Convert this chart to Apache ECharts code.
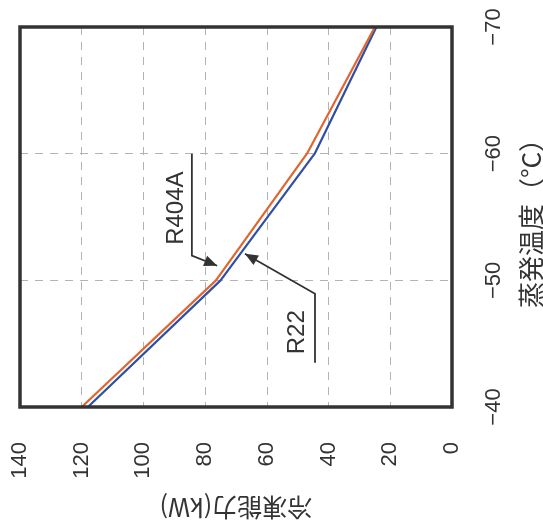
<!DOCTYPE html>
<html><head><meta charset="utf-8">
<script src="https://cdn.jsdelivr.net/npm/echarts@6/dist/echarts.min.js"></script>
<style>html,body{margin:0;padding:0;background:#fff}#c{width:543px;height:522px}</style>
</head><body><div id="c"></div>
<script>
// Evaporation temperature (°C) and refrigerating capacity (kW)
const temps = [-40, -50, -60, -70];
const r404aCapacity = [120, 76.5, 47, 25];
const r22Capacity = [118, 75, 44.5, 24.5];
const seriesNames = ['R404A', 'R22'];
const capacityTitle = '冷凍能力(kW)';
const tempTitle = '蒸発温度（°C）';

// Annotation leader lines in data coordinates [capacity, temp]
const annotations = [
  { text: 'R404A', textAt: [89.4, -55.7], path: [[84.3, -60.0], [84.3, -51.95], [76.1, -51.15]] },
  { text: 'R22', textAt: [50.2, -45.9], path: [[44.4, -43.5], [44.4, -48.94], [67.1, -52.1]] }
];

const fontLatin = '"Liberation Sans", Arial, Helvetica, sans-serif';
const fontCJK = '"Noto Sans CJK JP", "Liberation Sans", sans-serif';
const ink = '#333333';
const labelInk = '#333333';
const fmt = v => (v < 0 ? '\u2212' + Math.abs(v) : String(v));
const gridLine = { show: true, showMinLine: false, showMaxLine: false, lineStyle: { color: '#b3b3b3', width: 1, type: [8, 7] } };

const chart = echarts.init(document.getElementById('c'), null, { renderer: 'canvas' });
chart.setOption({
  backgroundColor: '#ffffff',
  animation: false,
  grid: { left: 20, right: 91, top: 27, bottom: 115, show: false, containLabel: false, outerBoundsMode: 'none' },
  xAxis: {
    type: 'value', min: 0, max: 140, interval: 20, inverse: true, position: 'bottom',
    axisLine: { show: false }, axisTick: { show: false },
    axisLabel: { rotate: 90, margin: 35, fontSize: 22, color: labelInk, fontFamily: fontLatin, formatter: fmt },
    splitLine: gridLine,
    name: capacityTitle, nameLocation: 'middle', nameRotate: 180, nameGap: 88,
    nameTextStyle: { fontSize: 25, color: labelInk, fontFamily: fontCJK }
  },
  yAxis: {
    type: 'value', min: -70, max: -40, interval: 10, inverse: true, position: 'right',
    axisLine: { show: false }, axisTick: { show: false },
    axisLabel: { rotate: 90, margin: 31, fontSize: 22, color: labelInk, fontFamily: fontLatin, formatter: fmt },
    splitLine: gridLine,
    name: tempTitle, nameLocation: 'middle', nameRotate: 90, nameGap: 66,
    nameTextStyle: { fontSize: 26, color: labelInk, fontFamily: fontCJK }
  },
  series: [
    { name: seriesNames[0], type: 'line', data: temps.map((t, i) => [r404aCapacity[i], t]),
      symbol: 'none', lineStyle: { color: '#e0652e', width: 2.2 }, z: 3 },
    { name: seriesNames[1], type: 'line', data: temps.map((t, i) => [r22Capacity[i], t]),
      symbol: 'none', lineStyle: { color: '#2f4fa3', width: 2.2 }, z: 2 }
  ]
});

const px = p => chart.convertToPixel({ gridIndex: 0 }, p);
const graphics = [];
// plot frame
const c1 = px([140, -70]), c2 = px([0, -40]);
graphics.push({ type: 'rect', shape: { x: c1[0], y: c1[1], width: c2[0] - c1[0], height: c2[1] - c1[1] },
  style: { stroke: ink, lineWidth: 3.5, fill: null }, z: 20 });
annotations.forEach(a => {
  const pts = a.path.map(px);
  graphics.push({ type: 'polyline', shape: { points: pts }, style: { stroke: ink, lineWidth: 1.8, fill: null }, z: 10 });
  const tip = pts[pts.length - 1], prev = pts[pts.length - 2];
  const dx = tip[0] - prev[0], dy = tip[1] - prev[1], L = Math.hypot(dx, dy);
  const ux = dx / L, uy = dy / L, hl = 13, hw = 5.5;
  const bx = tip[0] - ux * hl, by = tip[1] - uy * hl;
  graphics.push({ type: 'polygon', shape: { points: [tip, [bx - uy * hw, by + ux * hw], [bx + uy * hw, by - ux * hw]] },
    style: { fill: ink }, z: 11 });
  const tc = px(a.textAt);
  graphics.push({ type: 'text', x: tc[0], y: tc[1], rotation: Math.PI / 2,
    style: { text: a.text, fontSize: 24, fontFamily: fontLatin, fill: ink, align: 'center', verticalAlign: 'middle' }, z: 12 });
});
chart.setOption({ graphic: graphics });
</script></body></html>
